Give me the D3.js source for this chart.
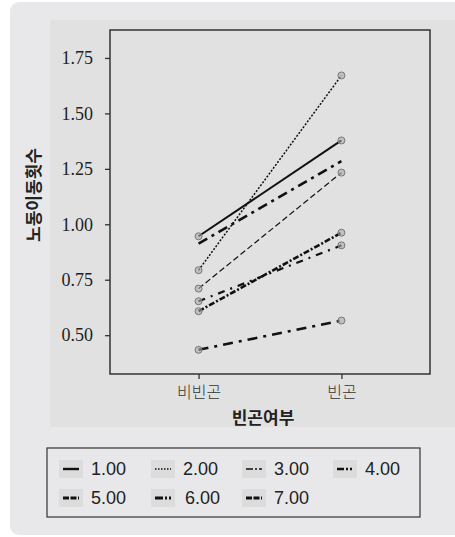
<!DOCTYPE html>
<html>
<head>
<meta charset="utf-8">
<script src="https://cdn.jsdelivr.net/npm/d3@7"></script>
<style>
  body { margin: 0; background: #fff; }
</style>
</head>
<body>
<div id="chart"></div>
<script>
// 데이터
const categories = ["비빈곤", "빈곤"];
const seriesNames = ["1.00", "2.00", "3.00", "4.00", "5.00", "6.00", "7.00"];
const seriesValues = [
  [0.946, 1.378],
  [0.793, 1.671],
  [0.710, 1.233],
  [0.913, 1.285],
  [0.608, 0.962],
  [0.653, 0.905],
  [0.434, 0.566]
];
const yTicks = [0.50, 0.75, 1.00, 1.25, 1.50, 1.75];

// 선 스타일
const styles = [
  { dash: null, w: 2 },
  { dash: "2,1.6", w: 1.5 },
  { dash: "6,3", w: 1.2 },
  { dash: "10,5,3,5", w: 2.6 },
  { dash: "6,2,2,2", w: 2.6 },
  { dash: "7,6,2,6", w: 2.2 },
  { dash: "10,6,3,6", w: 2.6 }
];
const markers = [true, true, true, false, true, true, true];

const W = 455, H = 537;
const svg = d3.select("#chart").append("svg")
  .attr("width", W).attr("height", H);

// 배경
svg.append("rect").attr("x", 10).attr("y", 2).attr("width", 460).attr("height", 533)
  .attr("rx", 9).attr("fill", "#e8e8ea");
svg.append("rect").attr("x", 50).attr("y", 20).attr("width", 405).attr("height", 407)
  .attr("fill", "#e1e1e1");

const pL = 110, pR = 430, pT = 30, pB = 374;

const x = d3.scalePoint().domain(categories).range([pL, pR]).padding(0.62);
const y = d3.scaleLinear().domain([0.325, 1.876]).range([pB, pT]);

// y축
const yAxis = svg.append("g").attr("transform", `translate(${pL},0)`)
  .call(d3.axisLeft(y).tickValues(yTicks).tickFormat(d3.format(".2f")).tickSize(5).tickPadding(12));
yAxis.select(".domain").remove();
yAxis.selectAll("line").attr("stroke", "#333").attr("stroke-width", 1.3);
yAxis.selectAll("text").attr("font-family", "'Liberation Serif', 'DejaVu Serif', serif")
  .attr("font-size", 18).attr("fill", "#222");

// x축
const xAxis = svg.append("g").attr("transform", `translate(0,${pB})`)
  .call(d3.axisBottom(x).tickSize(5).tickPadding(8));
xAxis.select(".domain").remove();
xAxis.selectAll("line").attr("stroke", "#333").attr("stroke-width", 1.3);
xAxis.selectAll("text").attr("font-family", "'Noto Sans CJK KR', sans-serif")
  .attr("font-size", 16).attr("font-weight", 300).attr("fill", "#333");

// 테두리
svg.append("rect").attr("x", pL).attr("y", pT)
  .attr("width", pR - pL).attr("height", pB - pT)
  .attr("fill", "none").attr("stroke", "#333").attr("stroke-width", 1.5);

// 축 제목
svg.append("text").attr("x", 263).attr("y", 424)
  .attr("text-anchor", "middle")
  .attr("font-family", "'Noto Sans CJK KR', sans-serif")
  .attr("font-size", 17).attr("font-weight", "bold").attr("fill", "#222")
  .text("빈곤여부");
svg.append("text")
  .attr("transform", "translate(40,195) rotate(-90)")
  .attr("text-anchor", "middle")
  .attr("font-family", "'Noto Sans CJK KR', sans-serif")
  .attr("font-size", 17).attr("font-weight", "bold").attr("fill", "#222")
  .text("노동이동횟수");

// 선
const line = d3.line().x((d, i) => x(categories[i])).y(d => y(d));
const g = svg.append("g");
seriesValues.forEach((vals, s) => {
  g.append("path").datum(vals)
    .attr("d", line)
    .attr("fill", "none")
    .attr("stroke", "#111")
    .attr("stroke-width", styles[s].w)
    .attr("stroke-dasharray", styles[s].dash);
});
seriesValues.forEach((vals, s) => {
  if (!markers[s]) return;
  g.selectAll(null).data(vals).join("circle")
    .attr("cx", (d, i) => x(categories[i]))
    .attr("cy", d => y(d))
    .attr("r", 3.5)
    .attr("fill", "rgba(170,170,170,0.6)")
    .attr("stroke", "#777")
    .attr("stroke-width", 1);
});

// 범례
svg.append("rect").attr("x", 47).attr("y", 448).attr("width", 373).attr("height", 69)
  .attr("fill", "none").attr("stroke", "#333").attr("stroke-width", 1.2);
const legendPos = [
  [59, 469], [151, 469], [242, 469], [333, 469],
  [59, 498], [151, 498], [242, 498]
];
const legendSwatch = [
  { dash: null, w: 2.4 },
  { dash: "1.5,1.5", w: 1.5 },
  { dash: "7,2,2,2", w: 1.6 },
  { dash: "7,2,2,2,2,2", w: 2.6 },
  { dash: "6,1.5", w: 2.8 },
  { dash: "8,2,2,2", w: 2.8 },
  { dash: "6,1.5", w: 2.8 }
];
const leg = svg.append("g").selectAll("g").data(seriesNames).join("g")
  .attr("transform", (d, i) => `translate(${legendPos[i][0]},${legendPos[i][1]})`);
leg.append("rect").attr("x", 0).attr("y", -9).attr("width", 24).attr("height", 18)
  .attr("fill", "#dcdcdc");
leg.append("line").attr("x1", 4).attr("x2", 20).attr("y1", 0).attr("y2", 0)
  .attr("stroke", "#111")
  .attr("stroke-width", (d, i) => legendSwatch[i].w)
  .attr("stroke-dasharray", (d, i) => legendSwatch[i].dash);
leg.append("text").attr("x", (d, i) => i === 5 ? 34 : 32).attr("y", 0).attr("dy", "0.36em")
  .attr("font-family", "'Liberation Sans', Arial, sans-serif")
  .attr("font-size", 18).attr("fill", "#222")
  .text(d => d);
</script>
</body>
</html>
